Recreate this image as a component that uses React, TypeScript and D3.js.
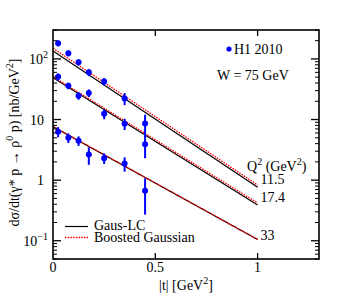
import React from "react";
import * as d3 from "d3";

// |t| bin centres (GeV^2)
const tBins = [0.025, 0.075, 0.125, 0.175, 0.25, 0.35, 0.45];
const q2Labels = ["11.5", "17.4", "33"];

// H1 2010 data, one array per Q^2
const h1Q11 = [181, 124, 88, 60, 42.5, 22.3, 8.6];
const h1Q11Err = [20, 14, 10, 8, 6, 5, 3.4];
const h1Q17 = [50.7, 36, 24.7, 27.4, 12.4, 8.5, 3.9];
const h1Q17Err = [7, 4.5, 3.5, 4, 2.3, 1.8, 1.6];
const h1Q33 = [6.3, 5.0, 4.47, 2.64, 2.3, 1.88, 0.67];
const h1Q33Err = [1.2, 0.9, 0.8, 0.85, 0.45, 0.5, 0.4];

// model curves at |t| = 0 and 1
const curveT = [0, 1];
const gausLC = [[135, 0.76], [49, 0.39], [7.6, 0.105]];
const boosted = [[150, 0.83], [51, 0.42], [7.7, 0.105]];

const W = 355, H = 306;
const m = { left: 53, right: 36, top: 30, bottom: 47 };
const font = "'Liberation Serif', 'Times New Roman', serif";

export default function App() {
  const x = d3.scaleLinear().domain([0, 1.3]).range([m.left, W - m.right]);
  const y = d3.scaleLog().domain([0.05, 300]).range([H - m.bottom, m.top]);

  const series = [
    { v: h1Q11, e: h1Q11Err },
    { v: h1Q17, e: h1Q17Err },
    { v: h1Q33, e: h1Q33Err },
  ];

  const line = d3.line<number[]>().x(d => x(d[0])).y(d => y(d[1]));
  const pts = (vals: number[]) => curveT.map((t, i) => [t, vals[i]]);

  const majors = [0.1, 1, 10, 100];
  const minors = y.ticks().filter(v => !majors.includes(v) && v >= 0.05 && v <= 300);
  const yLabels: [number, string, string | null][] = [
    [0.1, "10", "−1"], [1, "1", null], [10, "10", null], [100, "10", "2"],
  ];
  const x0 = m.left, x1 = W - m.right, yTop = m.top, yBot = H - m.bottom;

  return (
    <svg width={W} height={H} style={{ position: "absolute", left: 0, top: 0, background: "#fff" }}
      fontFamily={font}>
      {/* curves */}
      {gausLC.map((c, i) => (
        <path key={"g" + i} d={line(pts(c)) || ""} fill="none" stroke="#000" strokeWidth={1.2} />
      ))}
      {boosted.map((c, i) => (
        <path key={"b" + i} d={line(pts(c)) || ""} fill="none" stroke="#ff0000"
          strokeWidth={1.4} strokeDasharray="1.5,1.2" />
      ))}

      {/* data */}
      {series.map((s, si) => (
        <g key={si}>
          {tBins.map((t, i) => (
            <g key={i}>
              <line x1={x(t)} x2={x(t)} y1={y(s.v[i] + s.e[i])} y2={y(Math.max(s.v[i] - s.e[i], 0.01))}
                stroke="#0000ff" strokeWidth={2} />
              <circle cx={x(t)} cy={y(s.v[i])} r={3} fill="#0000ff" />
            </g>
          ))}
        </g>
      ))}

      {/* frame and ticks */}
      <rect x={x0} y={yTop} width={x1 - x0} height={yBot - yTop} fill="none" stroke="#000" strokeWidth={1.6} />
      {[0.5, 1].map(t => (
        <g key={t}>
          <line x1={x(t)} x2={x(t)} y1={yBot} y2={yBot - 6} stroke="#000" strokeWidth={1.3} />
          <line x1={x(t)} x2={x(t)} y1={yTop} y2={yTop + 6} stroke="#000" strokeWidth={1.3} />
        </g>
      ))}
      {majors.map(v => (
        <g key={v}>
          <line x1={x0} x2={x0 + 8} y1={y(v)} y2={y(v)} stroke="#000" strokeWidth={1.3} />
          <line x1={x1} x2={x1 - 8} y1={y(v)} y2={y(v)} stroke="#000" strokeWidth={1.3} />
        </g>
      ))}
      {minors.map(v => (
        <g key={v}>
          <line x1={x0} x2={x0 + 4} y1={y(v)} y2={y(v)} stroke="#000" strokeWidth={1} />
          <line x1={x1} x2={x1 - 4} y1={y(v)} y2={y(v)} stroke="#000" strokeWidth={1} />
        </g>
      ))}

      {/* tick labels */}
      {[0, 0.5, 1].map(t => (
        <text key={t} x={x(t)} y={yBot + 13} textAnchor="middle" fontSize={14}>{t}</text>
      ))}
      {yLabels.map(([v, base, sup]) => (
        <text key={v} x={sup ? x0 - 5 : x0 - 9} y={y(v) + 5} textAnchor="end" fontSize={14}>
          {base}{sup && <tspan fontSize={10} dy={-6}>{sup}</tspan>}
        </text>
      ))}

      {/* axis titles */}
      <text x={186} y={290} textAnchor="middle" fontSize={14}>
        |t| [GeV<tspan fontSize={10} dy={-6}>2</tspan><tspan dy={6}>]</tspan>
      </text>
      <text transform={`translate(19,${(yTop + yBot) / 2 - 2}) rotate(-90)`} textAnchor="middle" fontSize={14}>
        dσ/dt(γ* p → ρ<tspan fontSize={10} dy={-6}>0</tspan><tspan dy={6}> p) [nb/GeV</tspan>
        <tspan fontSize={10} dy={-6}>2</tspan><tspan dy={6}>]</tspan>
      </text>

      {/* annotations */}
      <circle cx={229} cy={49} r={2.6} fill="#0000ff" />
      <text x={234} y={54} fontSize={14}>H1 2010</text>
      <text x={217} y={80} fontSize={14}>W = 75 GeV</text>
      <text x={247} y={171} fontSize={14}>
        Q<tspan fontSize={10} dy={-6}>2</tspan><tspan dy={6}> (GeV</tspan>
        <tspan fontSize={10} dy={-6}>2</tspan><tspan dy={6}>)</tspan>
      </text>
      {q2Labels.map((lab, i) => (
        <text key={lab} x={x(1) + 3} y={y(gausLC[i][1]) + (i === 2 ? 1 : -3)} fontSize={14}>{lab}</text>
      ))}

      {/* legend */}
      <line x1={65} x2={88} y1={226.5} y2={226.5} stroke="#000" strokeWidth={1.2} />
      <text x={94} y={229.5} fontSize={14}>Gaus-LC</text>
      <line x1={65} x2={88} y1={237.5} y2={237.5} stroke="#ff0000" strokeWidth={1.4} strokeDasharray="1.5,1.2" />
      <text x={94} y={242} fontSize={14}>Boosted Gaussian</text>
    </svg>
  );
}
